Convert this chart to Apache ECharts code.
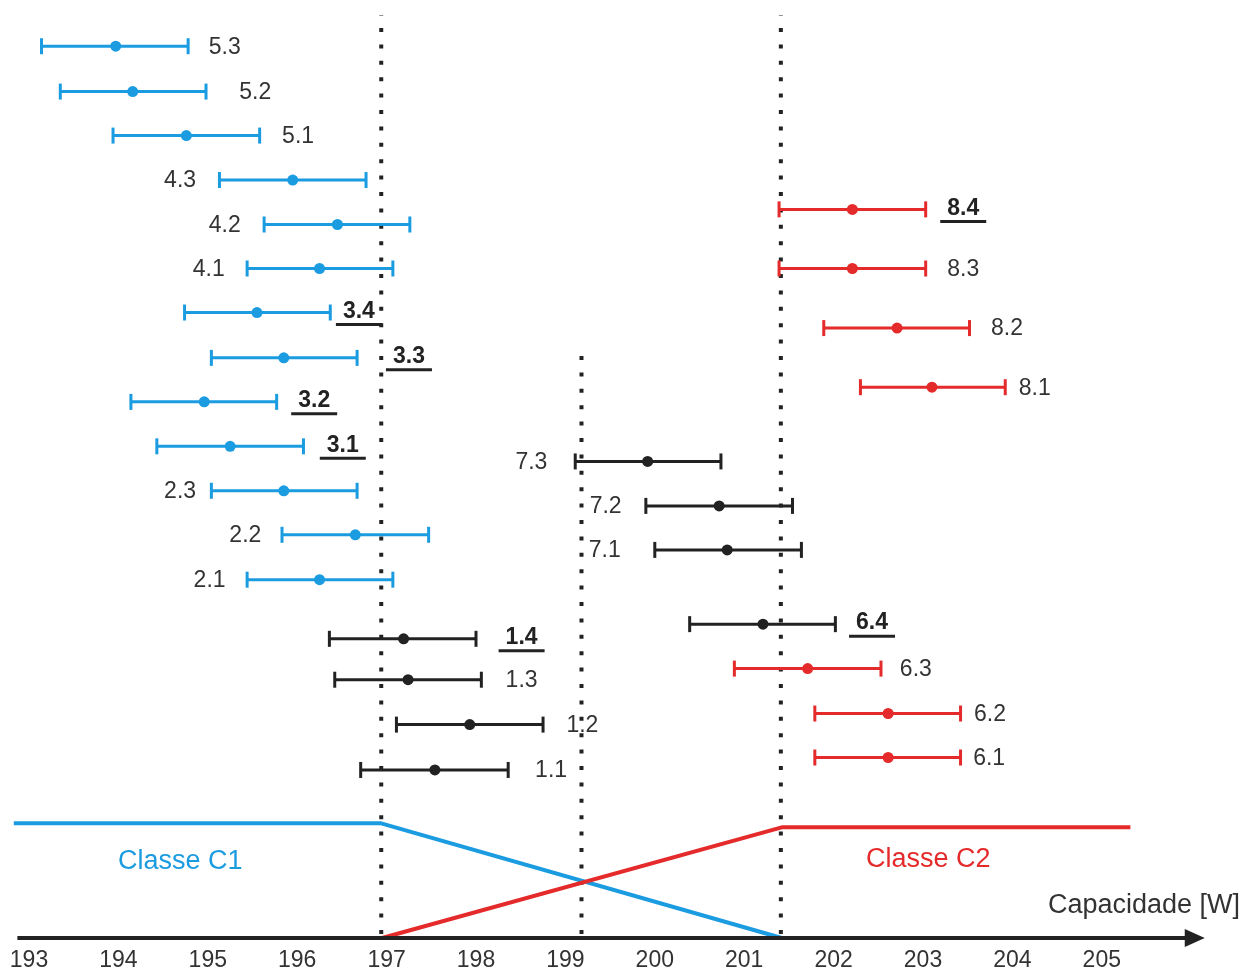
<!DOCTYPE html>
<html>
<head>
<meta charset="utf-8">
<script src="https://cdn.jsdelivr.net/npm/echarts@6/dist/echarts.min.js"></script>
<style>
html,body{margin:0;padding:0;background:#fff;}
#chart{width:1255px;height:972px;}
</style>
</head>
<body>
<div id="chart"></div>
<script>
// ---------- DATA ----------
const ticks = [193,194,195,196,197,198,199,200,201,202,203,204,205];

// Blue group (Classe C1)
const blueNames = ['5.3','5.2','5.1','4.3','4.2','4.1','3.4','3.3','3.2','3.1','2.3','2.2','2.1'];
const blueLow   = [193.14,193.35,193.94,195.13,195.63,195.44,194.74,195.04,194.14,194.43,195.04,195.83,195.44];
const blueMean  = [193.97,194.16,194.76,195.95,196.45,196.25,195.55,195.85,194.96,195.25,195.85,196.65,196.25];
const blueHigh  = [194.78,194.98,195.58,196.77,197.26,197.07,196.37,196.67,195.77,196.07,196.67,197.47,197.07];
const blueRow   = [20.06,19.04,18.05,17.05,16.05,15.06,14.07,13.05,12.06,11.06,10.06,9.07,8.06];

// Black group
const blackNames = ['1.4','1.3','1.2','1.1','7.3','7.2','7.1','6.4'];
const blackLow   = [196.36,196.42,197.11,196.71,199.11,199.90,200.00,200.39];
const blackMean  = [197.19,197.24,197.93,197.54,199.92,200.72,200.81,201.21];
const blackHigh  = [198.00,198.06,198.75,198.36,200.74,201.54,201.64,202.02];
const blackRow   = [6.73,5.81,4.80,3.78,10.72,9.72,8.73,7.06];

// Red group (Classe C2)
const redNames = ['8.4','8.3','8.2','8.1','6.3','6.2','6.1'];
const redLow   = [201.39,201.39,201.89,202.30,200.89,201.79,201.79];
const redMean  = [202.21,202.21,202.71,203.10,201.71,202.61,202.61];
const redHigh  = [203.03,203.03,203.52,203.92,202.53,203.42,203.42];
const redRow   = [16.39,15.06,13.72,12.39,6.06,5.05,4.06];

// Class limits (dotted lines)
const limitX   = [196.94,199.18,201.41];
const limitTop = [20.76,13.36,20.76];

// Membership lines
const c1X = [192.83,196.94,201.42];
const c1Y = [2.58,2.58,0];
const c2X = [196.95,201.42,205.32];
const c2Y = [0,2.49,2.49];

// Highlighted (underlined) labels
const underlined = ['3.4','3.3','3.2','3.1','1.4','6.4','8.4'];

// ---------- LAYOUT (label anchor in capacity units) ----------
const labelX = {
  '5.3':195.19,'5.2':195.53,'5.1':196.01,'4.3':194.69,'4.2':195.19,'4.1':195.01,
  '3.4':196.69,'3.3':197.25,'3.2':196.19,'3.1':196.51,'2.3':194.69,'2.2':195.42,'2.1':195.02,
  '1.4':198.51,'1.3':198.51,'1.2':199.19,'1.1':198.84,'7.3':198.62,'7.2':199.45,'7.1':199.44,
  '6.4':202.43,'8.4':203.45,'8.3':203.45,'8.2':203.94,'8.1':204.25,'6.3':202.92,'6.2':203.75,'6.1':203.74
};

const BLUE = '#1b9ce0', RED = '#e42a2a', BLACK = '#222222', TEXT = '#333333';
const FONT = '"Liberation Sans", Arial, sans-serif';

function errorSeries(color, names, low, mean, high, row) {
  const data = names.map((n, i) => [low[i], mean[i], high[i], row[i], i]);
  return {
    type: 'custom',
    data: data,
    encode: { x: [0, 1, 2], y: 3 },
    z: 5,
    renderItem: function (params, api) {
      const idx = api.value(4);
      const name = names[idx];
      const y = api.coord([api.value(1), api.value(3)])[1];
      const xl = api.coord([api.value(0), 0])[0];
      const xm = api.coord([api.value(1), 0])[0];
      const xh = api.coord([api.value(2), 0])[0];
      const xt = api.coord([labelX[name], 0])[0];
      const ul = underlined.indexOf(name) >= 0;
      const children = [
        { type: 'line', shape: { x1: xl, y1: y, x2: xh, y2: y }, style: { stroke: color, lineWidth: 3 } },
        { type: 'line', shape: { x1: xl, y1: y - 8, x2: xl, y2: y + 8 }, style: { stroke: color, lineWidth: 3 } },
        { type: 'line', shape: { x1: xh, y1: y - 8, x2: xh, y2: y + 8 }, style: { stroke: color, lineWidth: 3 } },
        { type: 'circle', shape: { cx: xm, cy: y, r: 5.5 }, style: { fill: color } },
        { type: 'text', style: { text: name, x: xt, y: ul ? y - 1 : y + 1, align: 'center', verticalAlign: 'middle',
            fill: ul ? '#222' : TEXT, font: (ul ? 'bold ' : '') + '23px ' + FONT } }
      ];
      if (ul) {
        children.push({ type: 'line', shape: { x1: xt - 23, y1: y + 12, x2: xt + 23, y2: y + 12 },
          style: { stroke: '#222', lineWidth: 3 } });
      }
      return { type: 'group', children: children };
    }
  };
}

const chart = echarts.init(document.getElementById('chart'), null, { renderer: 'canvas' });

const series = [
  {
    type: 'custom',
    data: limitX.map((x, i) => [x, limitTop[i]]),
    encode: { x: 0, y: 1 },
    z: 1,
    renderItem: function (params, api) {
      const p0 = api.coord([api.value(0), 0]);
      const p1 = api.coord([api.value(0), api.value(1)]);
      return { type: 'line', shape: { x1: p0[0], y1: p0[1] - 4, x2: p1[0], y2: p1[1] },
        style: { stroke: BLACK, lineWidth: 4, lineDash: [4, 12.4], lineCap: 'butt' } };
    }
  },
  {
    type: 'line', data: c1X.map((x, i) => [x, c1Y[i]]), symbol: 'none',
    lineStyle: { color: BLUE, width: 4 }, z: 3, silent: true
  },
  {
    type: 'line', data: c2X.map((x, i) => [x, c2Y[i]]), symbol: 'none',
    lineStyle: { color: RED, width: 4 }, z: 3, silent: true
  },
  {
    type: 'line', data: [], z: 2,
    markLine: {
      silent: true,
      symbol: ['none', 'triangle'],
      symbolSize: [18, 20],
      lineStyle: { color: BLACK, width: 4, type: 'solid' },
      label: { show: false },
      data: [[{ coord: [192.87, 0] }, { coord: [206.04, 0] }]]
    }
  },
  errorSeries(BLUE, blueNames, blueLow, blueMean, blueHigh, blueRow),
  errorSeries(BLACK, blackNames, blackLow, blackMean, blackHigh, blackRow),
  errorSeries(RED, redNames, redLow, redMean, redHigh, redRow)
];

const PX_PER_UNIT = 89.4;
chart.setOption({
  animation: false,
  backgroundColor: '#ffffff',
  grid: { left: 0, right: 0, top: 0, bottom: 31 },
  xAxis: {
    type: 'value',
    min: 193 - 29 / PX_PER_UNIT,
    max: 193 + 1226 / PX_PER_UNIT,
    axisLine: { show: false }, axisTick: { show: false }, splitLine: { show: false },
    axisLabel: {
      customValues: ticks,
      margin: 11, color: TEXT, fontSize: 23, fontFamily: FONT,
      formatter: function (v) { return String(Math.round(v)); }
    }
  },
  yAxis: { type: 'value', min: 0, max: 21.1, show: false },
  graphic: [
    { type: 'text', left: 118, top: 848, style: { text: 'Classe C1', fill: BLUE, font: '27px ' + FONT } },
    { type: 'text', left: 866, top: 846, style: { text: 'Classe C2', fill: RED, font: '27px ' + FONT } },
    { type: 'text', left: 1048, top: 892, style: { text: 'Capacidade [W]', fill: TEXT, font: '27px ' + FONT } }
  ],
  series: series
});
</script>
</body>
</html>
